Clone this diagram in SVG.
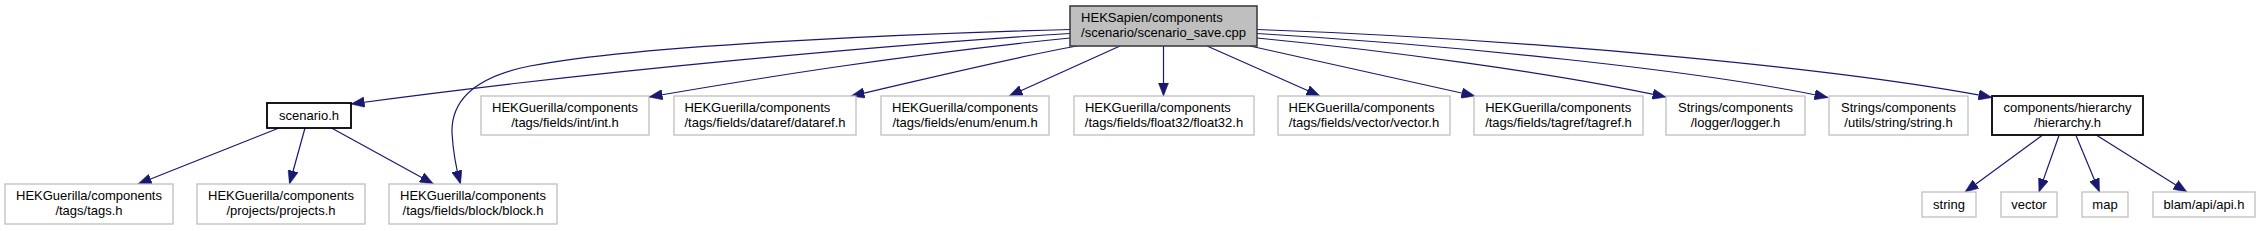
<svg xmlns="http://www.w3.org/2000/svg" width="2261" height="231" viewBox="0 0 2261 231">
<style>
.bg{fill:#ffffff}
.n rect{fill:#ffffff;stroke:#bfbfbf;stroke-width:1.3}
.n.k rect{stroke:#000000;stroke-width:1.8}
.n.r rect{fill:#bfbfbf;stroke:#404040;stroke-width:1.6}
text{font-family:"Liberation Sans",Arial,Helvetica,sans-serif;font-size:13px;fill:#000000}
.c{text-anchor:middle}
#edges path{fill:none;stroke:#191970;stroke-width:1.2;marker-end:url(#ah)}
</style>
<defs>
<marker id="ah" viewBox="0 0 13.5 10.5" refX="13.5" refY="5.25" markerWidth="13.5" markerHeight="10.5" markerUnits="userSpaceOnUse" orient="auto">
<path d="M0,0 L13.5,5.25 L0,10.5 Z" fill="#191970" stroke="#191970" stroke-width="0.5"/>
</marker>
</defs>
<rect class="bg" x="0" y="0" width="2261" height="231"/>

<g id="edges">
<path d="M1070,29.5 C940,33 640,44 530,66 C475,77 451,100 452,133 C453,150 456,168 460.5,184"/>
<path d="M1070,33.5 C900,44 600,70 351,104"/>
<path d="M1070,38 C900,55 760,78 649,97"/>
<path d="M1077,46 C1010,58 930,78 851,96"/>
<path d="M1120,46 L1009,96"/>
<path d="M1163.5,46 L1163.5,96"/>
<path d="M1207,46 L1320,96"/>
<path d="M1250,46 L1475,96"/>
<path d="M1257,38 C1380,50 1550,72 1666,97"/>
<path d="M1257,33.5 C1450,45 1700,70 1828,97.5"/>
<path d="M1257,29.5 C1550,40 1850,70 1992,97.5"/>
<path d="M279,128 L138,184"/>
<path d="M305,128 L289.5,184"/>
<path d="M331.5,128 L433.5,184"/>
<path d="M2042,135.5 L1965,192"/>
<path d="M2059,135.5 L2039,192"/>
<path d="M2076,135.5 L2099.5,192"/>
<path d="M2097,135.5 L2187,192"/>
</g>

<g id="node-main" class="n r"><rect x="1070" y="6" width="187" height="40"/>
<text x="1081.1" y="21.5">HEKSapien/components</text><text class="c" x="1163.5" y="36.5">/scenario/scenario_save.cpp</text></g>

<g id="node-scenario" class="n k"><rect x="267" y="103" width="84" height="25"/>
<text class="c" x="309" y="119.5">scenario.h</text></g>

<g id="node-tags" class="n"><rect x="5" y="184" width="168" height="40"/>
<text class="c" x="89" y="200">HEKGuerilla/components</text><text class="c" x="89" y="215">/tags/tags.h</text></g>

<g id="node-projects" class="n"><rect x="197" y="184" width="168" height="40"/>
<text class="c" x="281" y="200">HEKGuerilla/components</text><text class="c" x="281" y="215">/projects/projects.h</text></g>

<g id="node-block" class="n"><rect x="389" y="184" width="168" height="40"/>
<text class="c" x="473" y="200">HEKGuerilla/components</text><text class="c" x="473" y="215">/tags/fields/block/block.h</text></g>

<g id="node-int" class="n"><rect x="481" y="96" width="168" height="39"/>
<text class="c" x="565" y="111.5">HEKGuerilla/components</text><text class="c" x="565" y="126.5">/tags/fields/int/int.h</text></g>

<g id="node-dataref" class="n"><rect x="674" y="96" width="182" height="39"/>
<text x="684.4" y="111.5">HEKGuerilla/components</text><text class="c" x="765" y="126.5">/tags/fields/dataref/dataref.h</text></g>

<g id="node-enum" class="n"><rect x="881" y="96" width="168" height="39"/>
<text class="c" x="965" y="111.5">HEKGuerilla/components</text><text class="c" x="965" y="126.5">/tags/fields/enum/enum.h</text></g>

<g id="node-float32" class="n"><rect x="1074" y="96" width="180" height="39"/>
<text x="1084.9" y="111.5">HEKGuerilla/components</text><text class="c" x="1164" y="126.5">/tags/fields/float32/float32.h</text></g>

<g id="node-vector-h" class="n"><rect x="1278" y="96" width="172" height="39"/>
<text x="1288.5" y="111.5">HEKGuerilla/components</text><text class="c" x="1364" y="126.5">/tags/fields/vector/vector.h</text></g>

<g id="node-tagref" class="n"><rect x="1474" y="96" width="169" height="39"/>
<text x="1485.2" y="111.5">HEKGuerilla/components</text><text class="c" x="1558.5" y="126.5">/tags/fields/tagref/tagref.h</text></g>

<g id="node-logger" class="n"><rect x="1666" y="96" width="139" height="39"/>
<text class="c" x="1735.5" y="111.5">Strings/components</text><text class="c" x="1735.5" y="126.5">/logger/logger.h</text></g>

<g id="node-string-h" class="n"><rect x="1829" y="96" width="139" height="39"/>
<text class="c" x="1898.5" y="111.5">Strings/components</text><text class="c" x="1898.5" y="126.5">/utils/string/string.h</text></g>

<g id="node-hierarchy" class="n k"><rect x="1992" y="96" width="151" height="39"/>
<text class="c" x="2067.5" y="111.5">components/hierarchy</text><text class="c" x="2067.5" y="126.5">/hierarchy.h</text></g>

<g id="node-string" class="n"><rect x="1922" y="192" width="54" height="25"/>
<text class="c" x="1949" y="208.5">string</text></g>

<g id="node-vector" class="n"><rect x="2001" y="192" width="56" height="25"/>
<text class="c" x="2029" y="208.5">vector</text></g>

<g id="node-map" class="n"><rect x="2082" y="192" width="46" height="25"/>
<text class="c" x="2105" y="208.5">map</text></g>

<g id="node-blam" class="n"><rect x="2153" y="192" width="102" height="25"/>
<text class="c" x="2204" y="208.5">blam/api/api.h</text></g>
</svg>
